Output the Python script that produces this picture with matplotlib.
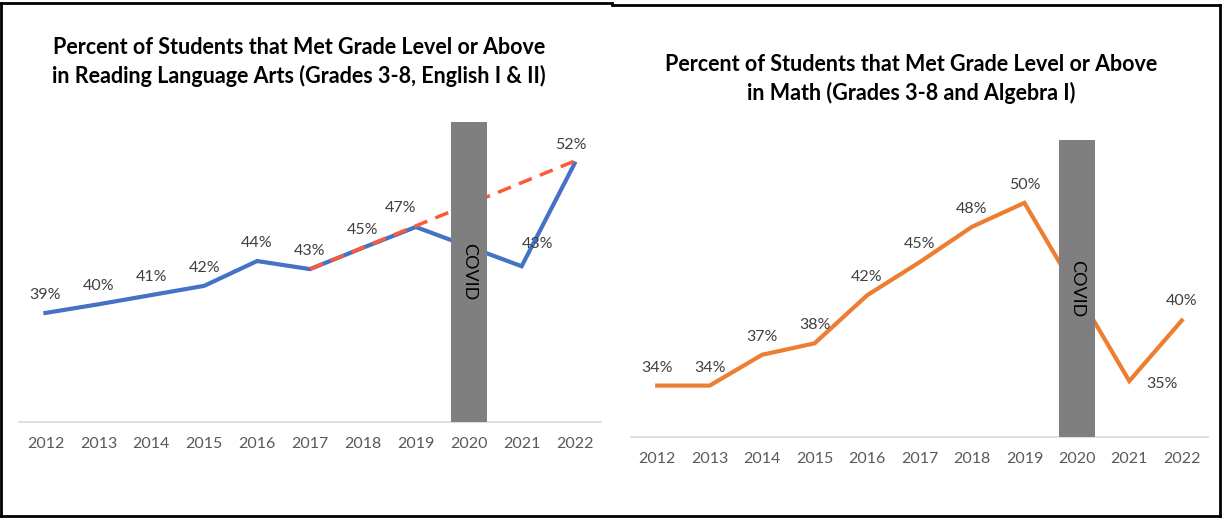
import numpy as np
import matplotlib.pyplot as plt
from matplotlib.lines import Line2D

years = [2012, 2013, 2014, 2015, 2016, 2017, 2018, 2019, 2020, 2021, 2022]
tick_labels = [str(y) for y in years]

# reading language arts (labels as printed)
rla = [38.95, 39.7, 40.5, 41.3, 43.45, 42.75, 44.6, 46.4, np.nan, 43.0, 51.9]
rla_labels = ["39%", "40%", "41%", "42%", "44%", "43%", "45%", "47%", "", "43%", "52%"]
trend_years = [2017, 2022.1]
trend_vals = [42.75, 52.3]

# math
math = [34.0, 34.0, 36.7, 37.7, 41.9, 44.8, 47.9, 50.0, np.nan, 34.4, 39.7]
math_labels = ["34%", "34%", "37%", "38%", "42%", "45%", "48%", "50%", "", "35%", "40%"]

covid_year = 2020
ylo, yhi = 29.5, 55.5

plt.rcParams['font.family'] = ['Lato', 'DejaVu Sans']

fig = plt.figure(figsize=(12.25, 5.18), dpi=100)
W, H = 1225, 518


def panel(rect, vals, labels, color, title, title_xy, offsets):
    ax = fig.add_axes(rect)
    x = np.array(years, dtype=float)
    v = np.array(vals, dtype=float)
    ok = ~np.isnan(v)
    ax.plot(x[ok], v[ok], color=color, lw=3, solid_joinstyle='miter', zorder=2)
    ax.bar(covid_year, yhi - ylo, bottom=ylo, width=0.68, color='#7f7f7f', zorder=4)
    ax.text(covid_year, 42.5, "COVID", rotation=-90, ha='center', va='center',
            fontsize=13, color='black', zorder=5)
    for xi, vi, lab in zip(years, vals, labels):
        if lab == "":
            continue
        dx, dy = offsets.get(xi, (0, 18))
        ax.annotate(lab, (xi, vi), xytext=(dx, dy), textcoords='offset pixels',
                    ha='center', va='center', fontsize=11.5, color='#404040', zorder=6)
    ax.set_xlim(2011.5, 2022.5)
    ax.set_ylim(ylo, yhi)
    ax.set_xticks(years)
    ax.set_xticklabels(tick_labels, fontsize=11.5, color='#595959')
    ax.tick_params(axis='x', length=0, pad=11)
    ax.set_yticks([])
    for s in ['top', 'left', 'right']:
        ax.spines[s].set_visible(False)
    ax.spines['bottom'].set_color('#d9d9d9')
    ax.spines['bottom'].set_linewidth(1.2)
    ax.set_facecolor('none')
    fig.text(title_xy[0] / W, 1 - title_xy[1] / H, title, ha='center', va='center',
             fontsize=15.5, fontweight='bold', color='black', linespacing=1.35)
    return ax


ax1 = panel([19 / W, 1 - 422 / H, 582 / W, 300 / H], rla, rla_labels, '#4472c4',
            "Percent of Students that Met Grade Level or Above\n"
            "in Reading Language Arts (Grades 3-8, English I & II)",
            (299, 62), {2019: (-15, 19), 2021: (16, 22), 2022: (-4, 19)})
ax1.plot(trend_years, trend_vals, color='#ff5a36', lw=2.5, ls=(0, (4, 2.5)), zorder=3)

ax2 = panel([631 / W, 1 - 437 / H, 577 / W, 297 / H], math, math_labels, '#ed7d31',
            "Percent of Students that Met Grade Level or Above\n"
            "in Math (Grades 3-8 and Algebra I)",
            (911, 79), {2021: (33, -3), 2022: (0, 19)})


# frame borders
def seg(x0, y0, x1, y1):
    fig.add_artist(Line2D([x0 / W, x1 / W], [1 - y0 / H, 1 - y1 / H], color='black',
                          lw=2, transform=fig.transFigure))


seg(1, 3, 612, 3)
seg(612, 5, 1220, 5)
seg(1, 3, 1, 516)
seg(1, 516, 1220, 516)
seg(1220, 5, 1220, 516)

fig.savefig("out.png", dpi=100)
